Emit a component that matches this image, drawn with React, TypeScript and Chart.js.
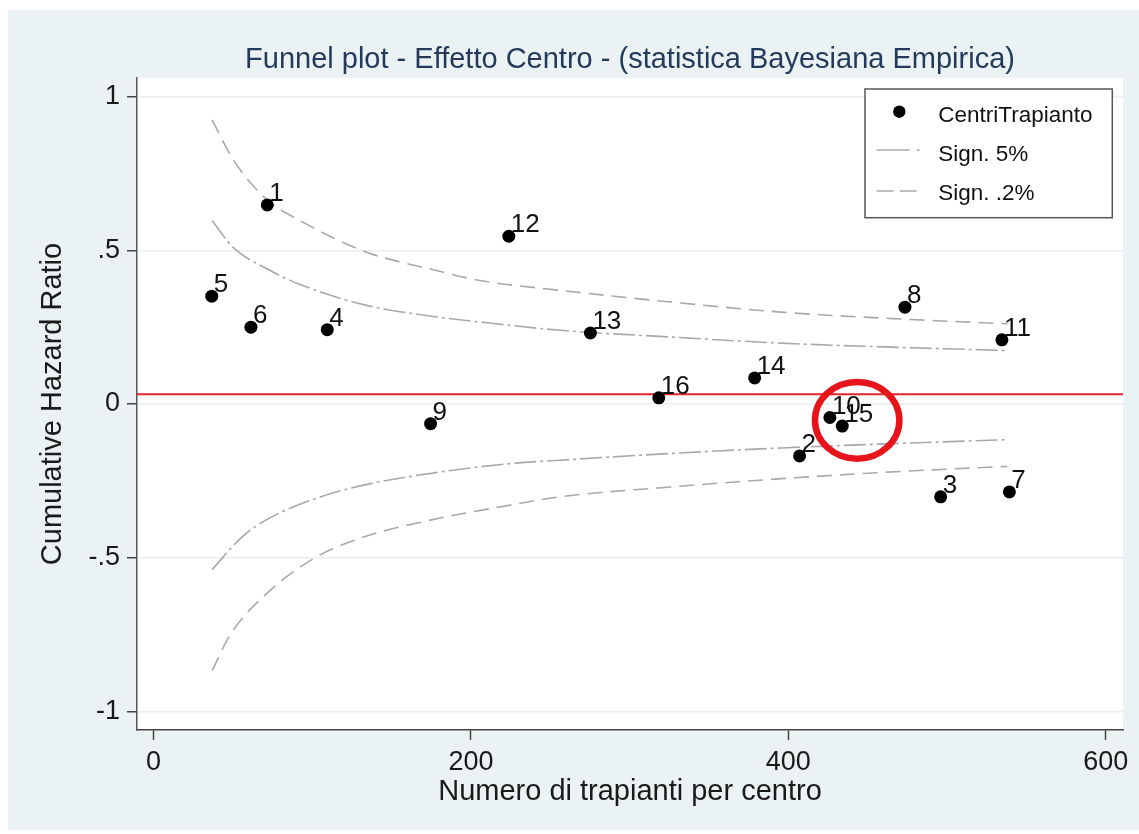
import React, { useEffect, useRef } from 'react';
import { Chart, registerables } from 'chart.js';

Chart.register(...registerables);

// ---------- data ----------
const chartTitle = 'Funnel plot - Effetto Centro - (statistica Bayesiana Empirica)';
const xAxisTitle = 'Numero di trapianti per centro';
const yAxisTitle = 'Cumulative Hazard Ratio';

const centreLabels = ['1', '2', '3', '4', '5', '6', '7', '8', '9', '10', '11', '12', '13', '14', '15', '16'];
const centreTransplants = [71.7, 407.1, 496.0, 109.5, 36.7, 61.4, 539.3, 473.5, 174.6, 426.2, 534.6, 223.9, 275.3, 378.8, 434.0, 318.4];
const centreHazard = [0.648, -0.169, -0.302, 0.242, 0.351, 0.25, -0.286, 0.315, -0.064, -0.044, 0.209, 0.546, 0.231, 0.085, -0.072, 0.02];

const sign5UpperX = [36.9, 50.5, 71.5, 92.3, 134.3, 176.3, 205.6, 256.0, 325.8, 395.6, 465.4, 538];
const sign5UpperY = [0.597, 0.508, 0.44, 0.389, 0.321, 0.285, 0.267, 0.24, 0.218, 0.198, 0.185, 0.174];
const sign5LowerX = [36.9, 54.7, 69.4, 100.9, 132.4, 174.4, 224.8, 256.0, 325.8, 395.6, 465.4, 538];
const sign5LowerY = [-0.539, -0.438, -0.382, -0.31, -0.264, -0.226, -0.194, -0.183, -0.161, -0.143, -0.129, -0.116];

const sign02UpperX = [36.9, 50.5, 71.5, 92.3, 134.3, 176.3, 205.6, 256.0, 325.8, 395.6, 465.4, 538];
const sign02UpperY = [0.925, 0.793, 0.665, 0.597, 0.494, 0.437, 0.402, 0.37, 0.332, 0.299, 0.278, 0.261];
const sign02LowerX = [36.9, 48.4, 69.4, 100.9, 132.4, 174.4, 224.8, 256.0, 325.8, 395.6, 465.4, 538];
const sign02LowerY = [-0.868, -0.75, -0.626, -0.503, -0.433, -0.378, -0.329, -0.302, -0.27, -0.243, -0.221, -0.203];

const referenceValue = 0.032;

const xTickValues = [0, 200, 400, 600];
const xTickLabels = ['0', '200', '400', '600'];
const yTickValues = [-1, -0.5, 0, 0.5, 1];
const yTickLabels = ['-1', '-.5', '0', '.5', '1'];

const legendLabels = ['CentriTrapianto', 'Sign. 5%', 'Sign. .2%'];

// highlighted region (centre x, centre y, radius x, radius y) in data units
const highlight = [443.4, -0.053, 26.6, 0.125];

// ---------- styles ----------
const FONT = "'Liberation Sans', Arial, Helvetica, sans-serif";
const OUTER_BG = '#eaf2f3';
const CURVE_COLOR = '#a9a9a9';
const DASH5 = [22, 4, 3, 4];
const DASH02 = [15, 8];

const toPts = (xs: number[], ys: number[]) => xs.map((x, i) => ({ x, y: ys[i] }));

const bgPlugin = {
  id: 'stataBackground',
  beforeDraw(chart: any) {
    const { ctx, chartArea, width, height } = chart;
    ctx.save();
    ctx.fillStyle = OUTER_BG;
    ctx.fillRect(0, 0, width, height);
    ctx.fillStyle = '#ffffff';
    ctx.fillRect(chartArea.left, chartArea.top, chartArea.right - chartArea.left, chartArea.bottom - chartArea.top);
    ctx.restore();
  },
};

const refLinePlugin = {
  id: 'refLine',
  beforeDatasetsDraw(chart: any) {
    const { ctx, chartArea, scales } = chart;
    const y = scales.y.getPixelForValue(referenceValue);
    ctx.save();
    ctx.strokeStyle = '#e3242b';
    ctx.lineWidth = 2;
    ctx.beginPath();
    ctx.moveTo(chartArea.left, y);
    ctx.lineTo(chartArea.right, y);
    ctx.stroke();
    ctx.restore();
  },
};

const labelPlugin = {
  id: 'pointLabels',
  afterDatasetsDraw(chart: any) {
    const { ctx } = chart;
    const meta = chart.getDatasetMeta(0);
    ctx.save();
    ctx.fillStyle = '#111111';
    ctx.font = `26px ${FONT}`;
    ctx.textAlign = 'left';
    ctx.textBaseline = 'alphabetic';
    meta.data.forEach((pt: any, i: number) => {
      ctx.fillText(centreLabels[i], pt.x + 2, pt.y - 4);
    });
    ctx.restore();
  },
};

const highlightPlugin = {
  id: 'highlightCircle',
  afterDraw(chart: any) {
    const { ctx, scales } = chart;
    const [hx, hy, hrx, hry] = highlight;
    const cx = scales.x.getPixelForValue(hx);
    const cy = scales.y.getPixelForValue(hy);
    const rx = Math.abs(scales.x.getPixelForValue(hx + hrx) - cx);
    const ry = Math.abs(scales.y.getPixelForValue(hy + hry) - cy);
    ctx.save();
    ctx.strokeStyle = '#e8141c';
    ctx.lineWidth = 6.5;
    ctx.beginPath();
    ctx.ellipse(cx, cy, rx, ry, 0, 0, Math.PI * 2);
    ctx.stroke();
    ctx.restore();
  },
};

const legendPlugin = {
  id: 'boxLegend',
  afterDraw(chart: any) {
    const { ctx, chartArea } = chart;
    const w = 247.3;
    const h = 128.7;
    const left = chartArea.right - 10.7 - w;
    const top = chartArea.top + 11;
    ctx.save();
    ctx.fillStyle = '#ffffff';
    ctx.fillRect(left, top, w, h);
    ctx.strokeStyle = '#555555';
    ctx.lineWidth = 1.5;
    ctx.strokeRect(left, top, w, h);

    // marker
    ctx.fillStyle = '#000000';
    ctx.beginPath();
    ctx.arc(left + 34.3, top + 22.7, 6.2, 0, Math.PI * 2);
    ctx.fill();

    // 5% sample
    ctx.strokeStyle = CURVE_COLOR;
    ctx.lineWidth = 1.6;
    ctx.setLineDash([33, 7, 3, 7]);
    ctx.beginPath();
    ctx.moveTo(left + 11.7, top + 61);
    ctx.lineTo(left + 58, top + 61);
    ctx.stroke();

    // 0.2% sample
    ctx.setLineDash([17, 6]);
    ctx.beginPath();
    ctx.moveTo(left + 11.7, top + 102);
    ctx.lineTo(left + 52.5, top + 102);
    ctx.stroke();
    ctx.setLineDash([]);

    ctx.fillStyle = '#111111';
    ctx.font = `22.5px ${FONT}`;
    ctx.textAlign = 'left';
    ctx.textBaseline = 'alphabetic';
    const baselines = [33, 72, 110.5];
    legendLabels.forEach((t, i) => ctx.fillText(t, left + 73.3, top + baselines[i]));
    ctx.restore();
  },
};

const curveDataset = (label: string, xs: number[], ys: number[], dash: number[]) => ({
  label,
  data: toPts(xs, ys),
  showLine: true,
  borderColor: CURVE_COLOR,
  borderWidth: 1.6,
  borderDash: dash,
  pointRadius: 0,
  cubicInterpolationMode: 'monotone',
  order: 1,
});

export default function App() {
  const canvasRef = useRef<HTMLCanvasElement | null>(null);

  useEffect(() => {
    if (!canvasRef.current) return;
    const chart = new Chart(canvasRef.current, {
      type: 'scatter',
      data: {
        datasets: [
          {
            label: legendLabels[0],
            data: toPts(centreTransplants, centreHazard),
            backgroundColor: '#000000',
            borderWidth: 0,
            pointRadius: 6.5,
            pointHoverRadius: 6.5,
            order: 0,
          },
          curveDataset(legendLabels[1], sign5UpperX, sign5UpperY, DASH5),
          curveDataset(legendLabels[1], sign5LowerX, sign5LowerY, DASH5),
          curveDataset(legendLabels[2], sign02UpperX, sign02UpperY, DASH02),
          curveDataset(legendLabels[2], sign02LowerX, sign02LowerY, DASH02),
        ],
      },
      options: {
        animation: false,
        responsive: false,
        maintainAspectRatio: false,
        events: [],
        layout: { padding: { left: 0, right: 16, top: 0, bottom: 0 } },
        plugins: {
          legend: { display: false },
          tooltip: { enabled: false },
          title: {
            display: true,
            text: chartTitle,
            color: '#25395a',
            fullSize: false,
            font: { family: FONT, size: 29, weight: 'normal' },
            padding: { top: 32.6, bottom: 0.6 },
          },
        },
        scales: {
          x: {
            type: 'linear',
            min: -10.4,
            max: 610.9,
            afterBuildTicks: (axis: any) => {
              axis.ticks = xTickValues.map((v) => ({ value: v }));
            },
            afterFit: (axis: any) => {
              axis.height = 100;
            },
            ticks: {
              autoSkip: false,
              maxRotation: 0,
              color: '#1a1a1a',
              padding: 6.3,
              font: { family: FONT, size: 27 },
              callback: (v: any) => xTickLabels[xTickValues.indexOf(Number(v))] ?? '',
            },
            grid: {
              drawOnChartArea: false,
              drawTicks: true,
              tickLength: 10,
              tickColor: '#444444',
              tickWidth: 1.5,
            },
            border: { display: true, color: '#444444', width: 1.5 },
            title: {
              display: true,
              text: xAxisTitle,
              color: '#1a1a1a',
              font: { family: FONT, size: 29 },
              padding: { top: 0, bottom: 20.9 },
            },
          },
          y: {
            type: 'linear',
            min: -1.061,
            max: 1.061,
            afterBuildTicks: (axis: any) => {
              axis.ticks = yTickValues.map((v) => ({ value: v }));
            },
            afterFit: (axis: any) => {
              axis.width = 129;
            },
            ticks: {
              autoSkip: false,
              color: '#1a1a1a',
              padding: 7,
              font: { family: FONT, size: 27 },
              callback: (v: any) => yTickLabels[yTickValues.indexOf(Number(v))] ?? '',
            },
            grid: {
              drawOnChartArea: true,
              color: '#e6eef0',
              lineWidth: 1.5,
              drawTicks: true,
              tickLength: 10,
              tickColor: '#444444',
              tickWidth: 1.5,
            },
            border: { display: true, color: '#555555', width: 1.5 },
            title: {
              display: true,
              text: yAxisTitle,
              color: '#1a1a1a',
              font: { family: FONT, size: 29 },
              padding: { top: 27.9, bottom: 0 },
            },
          },
        },
      } as any,
      plugins: [bgPlugin, refLinePlugin, labelPlugin, highlightPlugin, legendPlugin],
    });
    return () => chart.destroy();
  }, []);

  return (
    <div style={{ position: 'absolute', left: 8, top: 10 }}>
      <canvas ref={canvasRef} width={1131} height={820} style={{ display: 'block', width: 1131, height: 820 }} />
    </div>
  );
}
